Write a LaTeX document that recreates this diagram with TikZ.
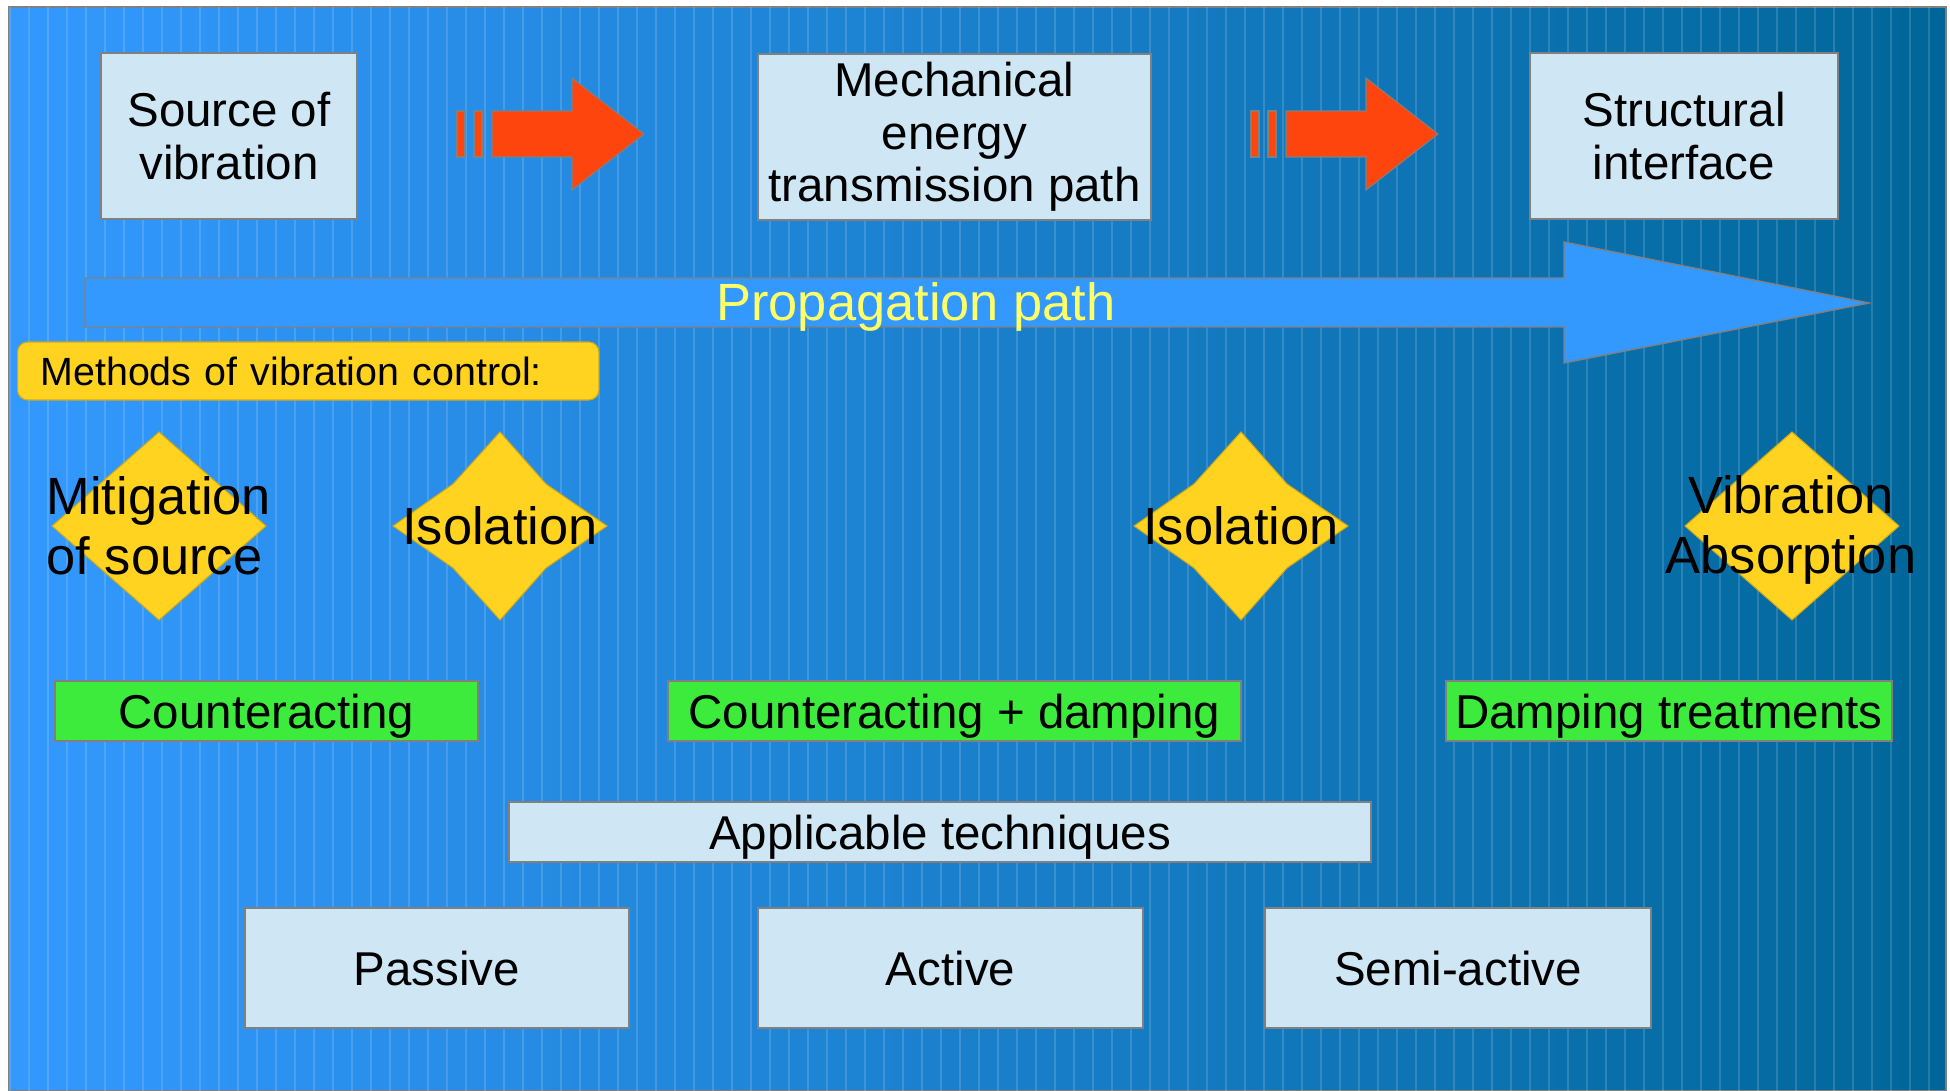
\documentclass[tikz,border=0pt]{standalone}
\usepackage{fontspec}
\setmainfont{Liberation Sans}
\usetikzlibrary{shapes.geometric}
\definecolor{bgleft}{HTML}{3399FF}
\definecolor{bgright}{HTML}{006699}
\definecolor{boxblue}{HTML}{CFE7F5}
\definecolor{edgegray}{HTML}{808080}
\definecolor{arrowred}{HTML}{FF450E}
\definecolor{pathblue}{HTML}{3399FF}
\definecolor{pathyellow}{HTML}{FFFF66}
\definecolor{methyellow}{HTML}{FFD320}
\definecolor{treatgreen}{HTML}{3DEB3D}
\tikzset{
  infobox/.style={draw=edgegray, fill=boxblue, line width=0.5pt, inner sep=0pt,
    align=center, font=\fontsize{13.5}{14.9}\selectfont},
  onelinebox/.style={infobox, text height=0.34cm, text depth=0pt},
  treatbox/.style={onelinebox, fill=treatgreen},
  methodtext/.style={inner sep=0pt, font=\fontsize{14.9}{17.1}\selectfont},
  methodshape/.style={fill=methyellow, draw=methyellow!80!black, line width=0.3pt},
  redarrow/.style={fill=arrowred, draw=edgegray, line width=0.3pt},
}

\begin{document}
\begin{tikzpicture}[x=0.01cm, y=-0.01cm]
  \useasboundingbox (0,0) rectangle (1950,1091);
  % background
  \shade[left color=bgleft, right color=bgright, draw=edgegray, line width=0.3pt]
    (9,7) rectangle (1946,1091);
  \foreach \k in {0,...,101}
    \draw[white, opacity=0.15, line width=0.3pt] ({10+19*\k},7) -- ({10+19*\k},1091);

  % path from source to interface
  \node (src) [infobox, minimum width=2.56cm, minimum height=1.66cm] at (229,136) {Source of\\vibration};
  \node (mech) [infobox, minimum width=3.93cm, minimum height=1.66cm] at (954.5,137) {Mechanical\\energy\\transmission path};
  \node (iface) [infobox, minimum width=3.08cm, minimum height=1.66cm] at (1684,136) {Structural\\interface};

  \foreach \dx in {0,794} {
    \filldraw[redarrow] ({457+\dx},111) rectangle ({465+\dx},157);
    \filldraw[redarrow] ({474+\dx},111) rectangle ({482+\dx},157);
    \filldraw[redarrow] ({492+\dx},111) -- ({572+\dx},111) -- ({572+\dx},78) -- ({644+\dx},134)
      -- ({572+\dx},190) -- ({572+\dx},157) -- ({492+\dx},157) -- cycle;
  }

  % propagation arrow
  \filldraw[fill=pathblue, draw=edgegray, line width=0.4pt]
    (85,278) -- (1564,278) -- (1564,242) -- (1869,303) -- (1564,363) -- (1564,327) -- (85,327) -- cycle;
  \node (prop) [anchor=base, inner sep=0pt, text=pathyellow, font=\fontsize{14.9}{17}\selectfont]
    at (916,321) {Propagation path};

  % methods
  \node (methods) [anchor=west, fill=methyellow, draw=methyellow!80!black, line width=0.3pt,
    rounded corners=0.1cm, minimum height=0.58cm, inner xsep=0.23cm, inner ysep=0pt,
    text width=5.35cm, align=left, font=\fontsize{11.2}{13}\selectfont]
    at (17,371) {Methods of vibration control:};

  \fill[methodshape] (159,526) +(0,-94) -- +(107,0) -- +(0,94) -- +(-107,0) -- cycle;
  \fill[methodshape] (1792,526) +(0,-94) -- +(107,0) -- +(0,94) -- +(-107,0) -- cycle;
  \foreach \cx in {500,1241}
    \filldraw[methodshape] (\cx,526) +(0,-94) -- +(46,-42) -- +(107,0) -- +(46,42) -- +(0,94)
      -- +(-47,42) -- +(-107,0) -- +(-47,-42) -- cycle;

  \node (mitig) [methodtext, anchor=west, align=left] at (46,526) {Mitigation\\of source};
  \node (isol1) [methodtext] at (500,526) {Isolation};
  \node (isol2) [methodtext] at (1241,526) {Isolation};
  \node (absorb) [methodtext, align=center] at (1791,530) {Vibration\\Absorption};

  \node (counter) [treatbox, minimum width=4.23cm, minimum height=0.6cm] at (266.5,711) {Counteracting};
  \node (cdamp) [treatbox, minimum width=5.73cm, minimum height=0.6cm] at (954.5,711) {Counteracting + damping};
  \node (damping) [treatbox, minimum width=4.46cm, minimum height=0.6cm] at (1669,711) {Damping treatments};

  % techniques
  \node (tech) [onelinebox, minimum width=8.62cm, minimum height=0.6cm] at (940,832) {Applicable techniques};
  \node (passive) [onelinebox, minimum width=3.84cm, minimum height=1.2cm] at (437,968) {Passive};
  \node (active) [onelinebox, minimum width=3.85cm, minimum height=1.2cm] at (950.5,968) {Active};
  \node (semi) [onelinebox, minimum width=3.86cm, minimum height=1.2cm] at (1458,968) {Semi-active};
\end{tikzpicture}
\end{document}
